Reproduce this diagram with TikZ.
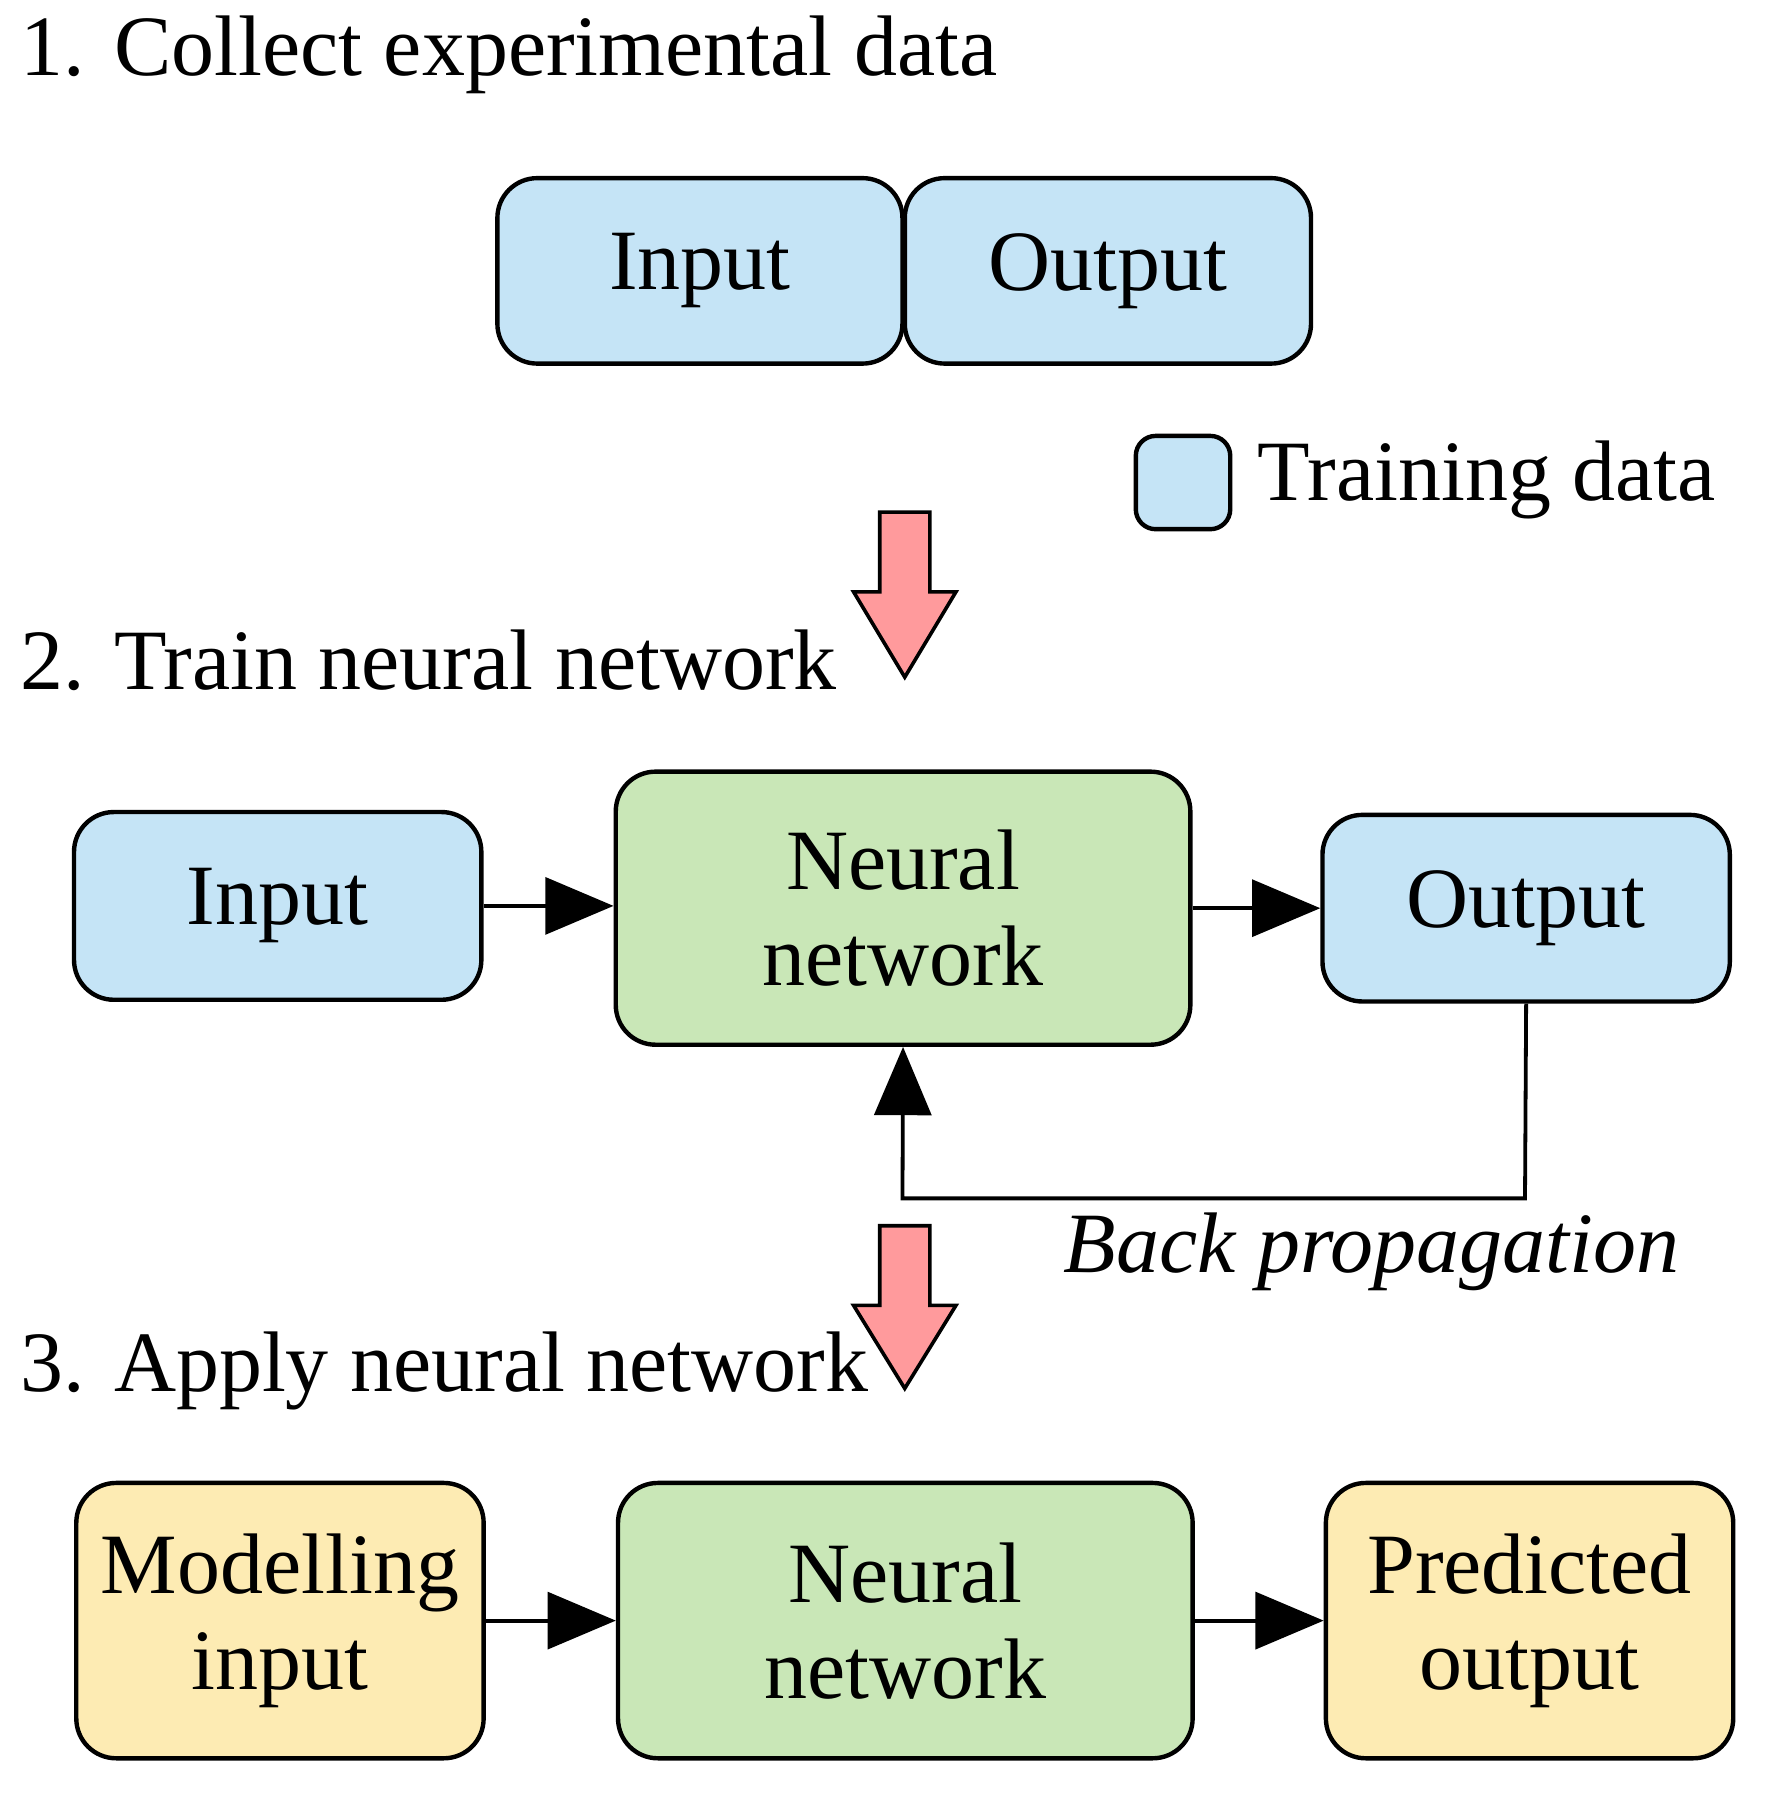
\documentclass[tikz,border=0pt]{standalone}
\usepackage{fontspec}
\setmainfont{Liberation Serif}
\usetikzlibrary{arrows.meta}
\definecolor{cblue}{HTML}{C5E4F6}
\definecolor{cgreen}{HTML}{C9E7B7}
\definecolor{cyel}{HTML}{FDEBB3}
\definecolor{cred}{HTML}{FF9A9C}
\begin{document}
\begin{tikzpicture}[x=0.02cm,y=-0.02cm,
  box/.style={draw,line width=2.2pt,rounded corners=0.7cm,align=center,inner sep=0pt,font=\fontsize{43}{48}\selectfont},
  lbl/.style={font=\fontsize{43}{48}\selectfont,inner sep=0pt},
  arr/.style={line width=1.9pt,-{Triangle[length=1.2cm,width=1cm]}},
  red/.style={fill=cred,draw,line width=1.8pt,line join=miter}]
\useasboundingbox (0,0) rectangle (1560,1579);
\node[lbl,anchor=west] (t1) at (18,48) {1. Collect experimental data};
\node[box,fill=cblue,minimum width=7.12cm,minimum height=3.26cm] (in1) at (615,238) {Input};
\node[box,fill=cblue,minimum width=7.14cm,minimum height=3.26cm] (out1) at (973.5,238) {Output};
\node[box,fill=cblue,rounded corners=0.35cm,minimum width=1.66cm,minimum height=1.64cm] (leg) at (1039.5,424) {};
\node[lbl,anchor=west] (legt) at (1105,422) {Training data};
\draw[red] (773,450) -- (817,450) -- (817,520) -- (840,520) -- (795,595) -- (750,520) -- (773,520) -- cycle;
\node[lbl,anchor=west] (t2) at (18,580) {2. Train neural network};
\node[box,fill=cblue,minimum width=7.16cm,minimum height=3.3cm] (in2) at (244,796) {Input};
\node[box,fill=cgreen,minimum width=10.1cm,minimum height=4.8cm] (nn2) at (793.5,798) {Neural\\network};
\node[box,fill=cblue,minimum width=7.16cm,minimum height=3.28cm] (out2) at (1341,798) {Output};
\draw[arr] (in2.east) -- (nn2.west|-in2.east);
\draw[arr] (nn2.east|-out2.west) -- (out2.west);
\draw[arr] (out2.south) -- (1340,1053) -- (793,1053) -- (nn2.south);
\node[lbl,font=\fontsize{43}{48}\selectfont\itshape] (bp) at (1205,1100) {Back propagation};
\draw[red] (773,1077) -- (817,1077) -- (817,1147) -- (840,1147) -- (795,1220) -- (750,1147) -- (773,1147) -- cycle;
\node[lbl,anchor=west] (t3) at (18,1205) {3. Apply neural network};
\node[box,fill=cyel,minimum width=7.16cm,minimum height=4.84cm] (in3) at (246,1424) {Modelling\\input};
\node[box,fill=cgreen,minimum width=10.1cm,minimum height=4.84cm] (nn3) at (795.5,1424) {Neural\\network};
\node[box,fill=cyel,minimum width=7.16cm,minimum height=4.84cm] (out3) at (1344,1424) {Predicted\\output};
\draw[arr] (in3.east) -- (nn3.west);
\draw[arr] (nn3.east) -- (out3.west);
\end{tikzpicture}
\end{document}
